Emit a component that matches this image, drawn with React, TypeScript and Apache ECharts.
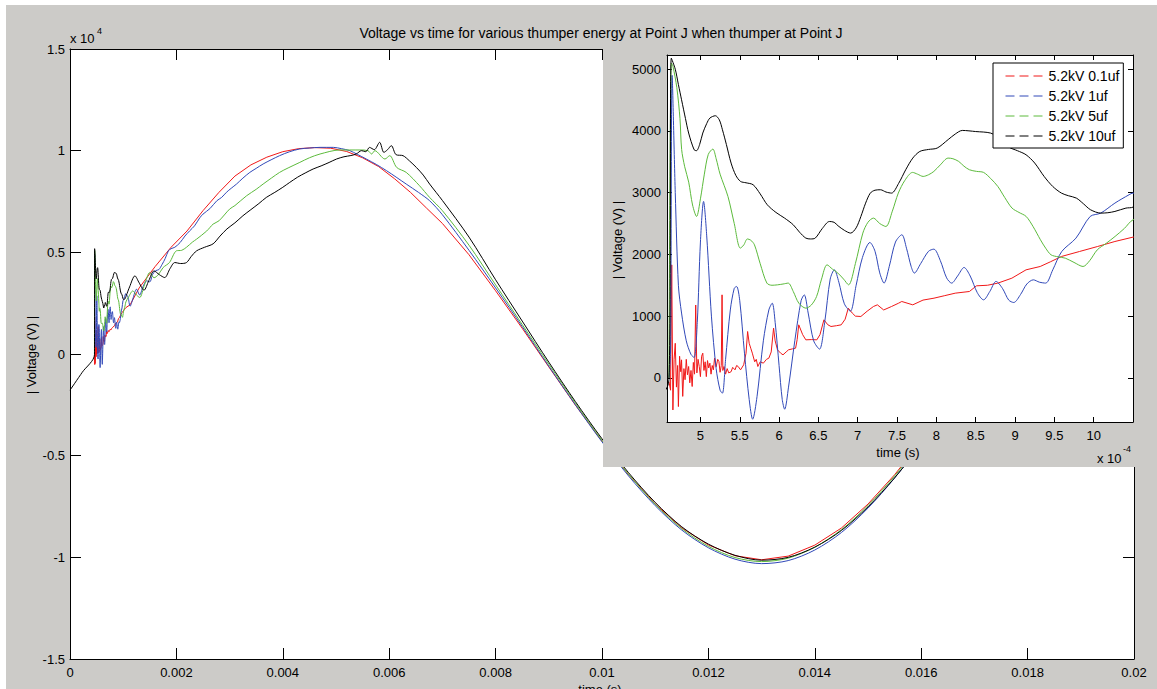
import React, { useEffect, useRef } from "react";
import * as echarts from "echarts";

const FONT = '"Liberation Sans", Arial, Helvetica, sans-serif';
const FIG_BG = "#cccbc8";

const seriesNames = ["5.2kV 0.1uf", "5.2kV 1uf", "5.2kV 5uf", "5.2kV 10uf"];
const seriesColors = ["#f01818", "#3048b8", "#5cba3c", "#000000"];
const seriesSmooth = [0, 0.3, 0.3, 0.3];

// tick labels
const mainXTicks = [0, 0.002, 0.004, 0.006, 0.008, 0.01, 0.012, 0.014, 0.016, 0.018, 0.02];
const mainYTickLabels = ["-1.5", "-1", "-0.5", "0", "0.5", "1", "1.5"]; // x 10^4
const insetXTicks = [5, 5.5, 6, 6.5, 7, 7.5, 8, 8.5, 9, 9.5, 10]; // x 10^-4 s
const insetYTicks = [0, 1000, 2000, 3000, 4000, 5000];

// [time (s), |Voltage| (V)]
const red01uf: [number, number][] = [
  [4.6e-4, -60], [4.62e-4, -200], [4.635e-4, 1830], [4.65e-4, -520], [4.665e-4, 300], [4.68e-4, 560],
  [4.695e-4, -150], [4.71e-4, 200], [4.72e-4, -465], [4.735e-4, 350], [4.75e-4, 100], [4.76e-4, 292],
  [4.775e-4, -300], [4.79e-4, 150], [4.805e-4, -30], [4.82e-4, 300], [4.835e-4, 50], [4.85e-4, 184],
  [4.865e-4, -80], [4.88e-4, 120], [4.895e-4, -140], [4.91e-4, 250], [4.925e-4, 60], [4.94e-4, 1180],
  [4.955e-4, 80], [4.97e-4, 300], [4.985e-4, 184], [5.0e-4, 20], [5.015e-4, 350], [5.03e-4, 400],
  [5.045e-4, 120], [5.06e-4, 260], [5.075e-4, 20], [5.09e-4, 280], [5.105e-4, 160], [5.12e-4, 238],
  [5.135e-4, 60], [5.15e-4, 200], [5.165e-4, 130], [5.18e-4, 320], [5.2e-4, 180], [5.22e-4, 300],
  [5.235e-4, 265], [5.25e-4, 90], [5.265e-4, 200], [5.275e-4, 1345], [5.285e-4, 120], [5.3e-4, 184],
  [5.32e-4, 60], [5.34e-4, 150], [5.36e-4, 80], [5.39e-4, 100], [5.41e-4, 170], [5.44e-4, 130],
  [5.46e-4, 200], [5.48e-4, 184], [5.51e-4, 130], [5.55e-4, 211], [5.58e-4, 400], [5.6e-4, 751],
  [5.62e-4, 560], [5.64e-4, 480], [5.66e-4, 400], [5.69e-4, 260], [5.71e-4, 300], [5.73e-4, 184],
  [5.76e-4, 260], [5.8e-4, 238], [5.84e-4, 300], [5.87e-4, 319], [5.9e-4, 420], [5.93e-4, 805],
  [5.95e-4, 600], [5.98e-4, 454], [6.02e-4, 400], [6.05e-4, 373], [6.09e-4, 420], [6.12e-4, 454],
  [6.17e-4, 470], [6.21e-4, 481], [6.23e-4, 620], [6.25e-4, 859], [6.3e-4, 700], [6.34e-4, 616],
  [6.41e-4, 620], [6.48e-4, 616], [6.52e-4, 700], [6.57e-4, 940], [6.62e-4, 860], [6.66e-4, 832],
  [6.73e-4, 845], [6.79e-4, 859], [6.84e-4, 950], [6.88e-4, 1129], [6.93e-4, 1050], [6.97e-4, 1000],
  [7.04e-4, 994], [7.12e-4, 1080], [7.2e-4, 1156], [7.25e-4, 1183], [7.33e-4, 1100], [7.43e-4, 1156],
  [7.52e-4, 1210], [7.56e-4, 1237], [7.7e-4, 1183], [7.83e-4, 1260], [7.97e-4, 1291], [8.1e-4, 1330],
  [8.24e-4, 1372], [8.42e-4, 1399], [8.51e-4, 1491], [8.65e-4, 1500], [8.78e-4, 1534], [8.96e-4, 1615],
  [9.14e-4, 1750], [9.32e-4, 1804], [9.45e-4, 1880], [9.59e-4, 1966], [9.82e-4, 2047], [10.05e-4, 2128],
  [10.27e-4, 2209], [10.5e-4, 2280],
  [0.00113, 2420], [0.0013, 3250], [0.0016, 4300], [0.0019, 5250], [0.0022, 6050], [0.0025, 7050],
  [0.0028, 7950], [0.0031, 8750], [0.0034, 9300], [0.0037, 9680], [0.004, 9950], [0.0043, 10100],
  [0.0046, 10150], [0.0049, 10120], [0.0052, 9960], [0.0055, 9650], [0.0058, 9220], [0.0061, 8620],
  [0.0064, 7950], [0.0067, 7180], [0.007, 6420], [0.0075, 4881], [0.008, 3109], [0.0085, 1265],
  [0.009, -634], [0.0095, -2512], [0.01, -4293], [0.0105, -5937], [0.011, -7375], [0.0115, -8552],
  [0.012, -9391], [0.0125, -9921], [0.013, -10120], [0.0135, -9940], [0.014, -9400], [0.0145, -8560],
  [0.015, -7380], [0.0155, -5940], [0.016, -4290], [0.0165, -2510], [0.017, -630], [0.0175, 1270],
  [0.018, 3110], [0.0185, 4880], [0.019, 6440], [0.0195, 7810], [0.02, 8850],
];

const blue1uf: [number, number][] = [
  [4.6e-4, 0], [4.62e-4, 400], [4.64e-4, 4900], [4.68e-4, 3000], [4.72e-4, 1500], [4.76e-4, 1050],
  [4.82e-4, 600], [4.88e-4, 380], [4.92e-4, 330], [4.96e-4, 900], [5.0e-4, 2200], [5.04e-4, 2858],
  [5.08e-4, 2300], [5.14e-4, 1000], [5.2e-4, 150], [5.25e-4, -200], [5.28e-4, -248], [5.32e-4, 300],
  [5.38e-4, 1100], [5.43e-4, 1450], [5.46e-4, 1480], [5.5e-4, 1250], [5.56e-4, 400], [5.62e-4, -350],
  [5.664e-4, -670], [5.72e-4, -300], [5.8e-4, 600], [5.87e-4, 1100], [5.913e-4, 1210], [5.95e-4, 900],
  [6.0e-4, 200], [6.04e-4, -350], [6.071e-4, -508], [6.12e-4, -150], [6.2e-4, 600], [6.28e-4, 1250],
  [6.32e-4, 1345], [6.37e-4, 1050], [6.44e-4, 600], [6.514e-4, 465], [6.58e-4, 900], [6.65e-4, 1600],
  [6.703e-4, 1750], [6.76e-4, 1550], [6.83e-4, 1200], [6.906e-4, 1080], [6.98e-4, 1500], [7.06e-4, 1950],
  [7.155e-4, 2193], [7.22e-4, 2050], [7.28e-4, 1700], [7.335e-4, 1535], [7.4e-4, 1800], [7.48e-4, 2200],
  [7.561e-4, 2318], [7.62e-4, 2100], [7.68e-4, 1800], [7.72e-4, 1697], [7.8e-4, 1850], [7.9e-4, 2050],
  [7.968e-4, 2085], [8.05e-4, 1900], [8.13e-4, 1620], [8.194e-4, 1535], [8.27e-4, 1650], [8.352e-4, 1788],
  [8.43e-4, 1650], [8.52e-4, 1380], [8.6e-4, 1264], [8.68e-4, 1400], [8.758e-4, 1562], [8.84e-4, 1450],
  [8.92e-4, 1260], [8.984e-4, 1221], [9.07e-4, 1350], [9.15e-4, 1520], [9.233e-4, 1588], [9.31e-4, 1550],
  [9.39e-4, 1535], [9.48e-4, 1750], [9.594e-4, 2047], [9.775e-4, 2264], [9.955e-4, 2614], [10.09e-4, 2669],
  [10.27e-4, 2831], [10.45e-4, 2966], [10.5e-4, 2993],
  [0.00109, 2800], [0.00113, 2350], [0.00118, 2700], [0.00125, 3187], [0.00131, 2900], [0.00137, 3300],
  [0.00144, 3596], [0.0015, 3550], [0.00155, 3900], [0.00161, 4100], [0.00167, 4150], [0.00173, 4400],
  [0.00179, 4700], [0.00185, 5074], [0.0019, 5180], [0.00197, 5250], [0.00207, 5482], [0.00216, 5800],
  [0.00225, 6059], [0.00234, 6300], [0.00244, 6700], [0.0025, 6880], [0.00263, 7150], [0.00276, 7537],
  [0.00285, 7700], [0.00294, 7950], [0.00303, 8150], [0.00313, 8358], [0.00325, 8650], [0.00338, 8931],
  [0.0035, 9130], [0.00363, 9345], [0.00378, 9550], [0.00394, 9754], [0.00413, 9950], [0.00432, 10084],
  [0.0045, 10130], [0.0047, 10162], [0.00495, 10162], [0.0051, 10100], [0.00526, 10000], [0.0054, 9820],
  [0.00557, 9589], [0.00576, 9320], [0.00595, 9015], [0.00613, 8700], [0.00632, 8358], [0.00655, 7950],
  [0.00676, 7537], [0.007, 6850], [0.0075, 5100], [0.008, 3250], [0.0085, 1350], [0.009, -600],
  [0.0095, -2500], [0.01, -4320], [0.0105, -6000], [0.011, -7460], [0.0115, -8660], [0.012, -9530],
  [0.0125, -10090], [0.013, -10310], [0.0135, -10160], [0.014, -9640], [0.0145, -8780], [0.015, -7580],
  [0.0155, -6100], [0.016, -4420], [0.0165, -2600], [0.017, -700], [0.0175, 1220], [0.018, 3080],
  [0.0185, 4860], [0.019, 6430], [0.0195, 7800], [0.02, 8840],
];

const green5uf: [number, number][] = [
  [4.6e-4, 0], [4.63e-4, 5100], [4.65e-4, 5050], [4.7e-4, 4700], [4.74e-4, 4200], [4.761e-4, 3700],
  [4.8e-4, 3420], [4.851e-4, 3170], [4.9e-4, 2800], [4.951e-4, 2614], [5.0e-4, 2900], [5.05e-4, 3300],
  [5.1e-4, 3620], [5.158e-4, 3706], [5.2e-4, 3550], [5.25e-4, 3300], [5.35e-4, 2938], [5.43e-4, 2500],
  [5.507e-4, 2102], [5.55e-4, 2150], [5.597e-4, 2250], [5.64e-4, 2230], [5.687e-4, 2155], [5.76e-4, 1850],
  [5.845e-4, 1535], [5.91e-4, 1500], [5.98e-4, 1507], [6.05e-4, 1520], [6.116e-4, 1535], [6.18e-4, 1400],
  [6.251e-4, 1210], [6.341e-4, 1129], [6.41e-4, 1180], [6.477e-4, 1318], [6.54e-4, 1600], [6.61e-4, 1831],
  [6.68e-4, 1760], [6.748e-4, 1697], [6.82e-4, 1600], [6.884e-4, 1507], [6.97e-4, 1850], [7.065e-4, 2345],
  [7.13e-4, 2520], [7.2e-4, 2588], [7.28e-4, 2500], [7.358e-4, 2452], [7.44e-4, 2700], [7.516e-4, 2993],
  [7.6e-4, 3200], [7.697e-4, 3328], [7.76e-4, 3300], [7.832e-4, 3263], [7.9e-4, 3290], [7.968e-4, 3344],
  [8.05e-4, 3450], [8.149e-4, 3560], [8.21e-4, 3550], [8.284e-4, 3506], [8.35e-4, 3430], [8.42e-4, 3371],
  [8.51e-4, 3345], [8.6e-4, 3328], [8.69e-4, 3230], [8.781e-4, 3101], [8.87e-4, 2920], [8.962e-4, 2750],
  [9.05e-4, 2680], [9.142e-4, 2614], [9.23e-4, 2450], [9.323e-4, 2237], [9.39e-4, 2100], [9.458e-4, 1993],
  [9.55e-4, 1960], [9.639e-4, 1939], [9.75e-4, 1870], [9.865e-4, 1804], [9.95e-4, 1900], [10.046e-4, 2074],
  [10.16e-4, 2180], [10.272e-4, 2291], [10.39e-4, 2420], [10.5e-4, 2560],
  [0.0011, 2800], [0.00118, 3100], [0.00125, 2900], [0.00131, 2780], [0.0014, 3400], [0.0015, 4005],
  [0.00158, 3750], [0.00166, 3900], [0.00175, 4250], [0.00187, 4500], [0.002, 5074], [0.0021, 5100],
  [0.00219, 5250], [0.0023, 5500], [0.00238, 5650], [0.00257, 6050], [0.00269, 6388], [0.0028, 6550],
  [0.003, 7127], [0.0031, 7300], [0.00332, 7783], [0.0035, 8100], [0.00363, 8358], [0.00394, 8931],
  [0.0041, 9150], [0.00432, 9424], [0.0045, 9650], [0.0047, 9836], [0.00507, 10034], [0.00545, 10034],
  [0.0056, 10000], [0.00567, 9836], [0.00573, 10000], [0.00592, 9590], [0.00601, 9754], [0.00614, 9177],
  [0.00632, 8931], [0.00657, 8276], [0.00676, 7700], [0.007, 7050], [0.0075, 5350], [0.008, 3400],
  [0.0085, 1450], [0.009, -500], [0.0095, -2420], [0.01, -4250], [0.0105, -5920], [0.011, -7390],
  [0.0115, -8590], [0.012, -9460], [0.0125, -10010], [0.013, -10210], [0.0135, -10040], [0.014, -9500],
  [0.0145, -8640], [0.015, -7450], [0.0155, -6000], [0.016, -4350], [0.0165, -2560], [0.017, -680],
  [0.0175, 1230], [0.018, 3090], [0.0185, 4870], [0.019, 6430], [0.0195, 7800], [0.02, 8840],
];

const black10uf: [number, number][] = [
  [0, -1780], [2.3e-4, -900], [4.6e-4, -30], [4.63e-4, 5180], [4.68e-4, 5000], [4.72e-4, 4750],
  [4.76e-4, 4505], [4.81e-4, 4200], [4.85e-4, 3966], [4.92e-4, 3695], [4.95e-4, 3680], [4.99e-4, 3780],
  [5.03e-4, 3966], [5.08e-4, 4120], [5.12e-4, 4208], [5.19e-4, 4246], [5.24e-4, 4180], [5.28e-4, 4019],
  [5.33e-4, 3780], [5.39e-4, 3479], [5.45e-4, 3280], [5.51e-4, 3182], [5.58e-4, 3160], [5.67e-4, 3128],
  [5.76e-4, 2980], [5.85e-4, 2804], [5.96e-4, 2680], [6.07e-4, 2588], [6.18e-4, 2480], [6.26e-4, 2360],
  [6.34e-4, 2264], [6.4e-4, 2250], [6.46e-4, 2264], [6.55e-4, 2420], [6.64e-4, 2533], [6.7e-4, 2520],
  [6.75e-4, 2463], [6.83e-4, 2390], [6.91e-4, 2345], [6.98e-4, 2430], [7.04e-4, 2614], [7.1e-4, 2830],
  [7.16e-4, 2993], [7.22e-4, 3040], [7.29e-4, 3047], [7.36e-4, 3010], [7.43e-4, 2993], [7.52e-4, 3150],
  [7.61e-4, 3371], [7.7e-4, 3560], [7.79e-4, 3668], [7.9e-4, 3700], [8.01e-4, 3722], [8.15e-4, 3860],
  [8.24e-4, 3950], [8.33e-4, 4008], [8.5e-4, 3990], [8.69e-4, 3965], [8.8e-4, 3880], [8.92e-4, 3739],
  [9.03e-4, 3680], [9.14e-4, 3614], [9.25e-4, 3480], [9.37e-4, 3263], [9.48e-4, 3100], [9.59e-4, 2993],
  [9.68e-4, 2950], [9.78e-4, 2912], [9.87e-4, 2820], [9.96e-4, 2723], [10.09e-4, 2669], [10.18e-4, 2675],
  [10.27e-4, 2696], [10.41e-4, 2750], [10.5e-4, 2766],
  [0.00112, 3300], [0.00122, 3842], [0.0013, 3500], [0.00139, 3136], [0.00148, 3600], [0.00158, 4088],
  [0.00168, 3900], [0.00178, 3760], [0.00188, 4200], [0.00197, 4498], [0.00208, 4450], [0.00219, 4498],
  [0.00228, 4800], [0.00238, 5074], [0.00253, 5250], [0.00269, 5419], [0.00282, 5800], [0.00295, 6150],
  [0.0031, 6450], [0.00325, 6798], [0.0034, 7100], [0.00355, 7400], [0.00369, 7700], [0.00385, 7950],
  [0.004, 8200], [0.00413, 8438], [0.00428, 8700], [0.00442, 8900], [0.00457, 9098], [0.00472, 9250],
  [0.00487, 9420], [0.00501, 9589], [0.00515, 9700], [0.00528, 9760], [0.00538, 9836], [0.00548, 10000],
  [0.00556, 9950], [0.00563, 10160], [0.00572, 10050], [0.00582, 10410], [0.0059, 9916], [0.00597, 10050],
  [0.00604, 10246], [0.00613, 9800], [0.00626, 9754], [0.00638, 9500], [0.00651, 9177], [0.00664, 8800],
  [0.00676, 8358], [0.007, 7550], [0.0075, 5750], [0.008, 3650], [0.0085, 1620], [0.009, -400],
  [0.0095, -2340], [0.01, -4170], [0.0105, -5840], [0.011, -7300], [0.0115, -8500], [0.012, -9350],
  [0.0125, -9900], [0.013, -10140], [0.0135, -10000], [0.014, -9500], [0.0145, -8680], [0.015, -7520],
  [0.0155, -6090], [0.016, -4450], [0.0165, -2650], [0.017, -750], [0.0175, 1180], [0.018, 3050],
  [0.0185, 4830], [0.019, 6400], [0.0195, 7780], [0.02, 8830],
];

const allSeries = [red01uf, blue1uf, green5uf, black10uf];

const TEXT = { fontFamily: FONT, fontSize: 13, fill: "#000" };

function buildSeries() {
  return allSeries.map((data, i) => ({
    type: "line",
    name: seriesNames[i],
    data,
    symbol: "none",
    showSymbol: false,
    smooth: seriesSmooth[i],
    clip: true,
    lineStyle: { color: seriesColors[i], width: 1 },
    itemStyle: { color: seriesColors[i] },
    emphasis: { disabled: true },
    silent: true,
  }));
}

const blackLine = { show: true, lineStyle: { color: "#000", width: 1 } };

function mainOption(): any {
  const xAxisBase = {
    type: "value",
    min: mainXTicks[0],
    max: mainXTicks[mainXTicks.length - 1],
    interval: 0.002,
    axisLine: { ...blackLine, onZero: false },
    splitLine: { show: false },
  };
  const yAxisBase = {
    type: "value",
    min: -15000,
    max: 15000,
    interval: 5000,
    axisLine: { ...blackLine, onZero: false },
    splitLine: { show: false },
  };
  return {
    animation: false,
    backgroundColor: "transparent",
    grid: { left: 70, top: 49, width: 1064, height: 610, show: true, backgroundColor: "#fff", borderWidth: 0 },
    xAxis: [
      {
        ...xAxisBase,
        position: "bottom",
        axisTick: { show: true, inside: true, length: 11, lineStyle: { color: "#000" } },
        axisLabel: {
          show: true,
          margin: 7,
          color: "#000",
          fontFamily: FONT,
          fontSize: 13,
          formatter: (v: number) => String(+v.toFixed(4)),
        },
      },
      {
        ...xAxisBase,
        position: "top",
        axisTick: { show: true, inside: true, length: 11, lineStyle: { color: "#000" } },
        axisLabel: { show: false },
      },
    ],
    yAxis: [
      {
        ...yAxisBase,
        position: "left",
        axisTick: { show: true, inside: true, length: 11, lineStyle: { color: "#000" } },
        axisLabel: {
          show: true,
          margin: 5,
          color: "#000",
          fontFamily: FONT,
          fontSize: 13,
          formatter: (v: number) => mainYTickLabels[Math.round((v + 15000) / 5000)],
        },
      },
      {
        ...yAxisBase,
        position: "right",
        axisTick: { show: true, inside: true, length: 11, lineStyle: { color: "#000" } },
        axisLabel: { show: false },
      },
    ],
    series: buildSeries(),
    graphic: [
      {
        type: "text",
        x: 601,
        y: 33,
        style: {
          ...TEXT,
          fontSize: 14,
          text: "Voltage vs time for various thumper energy at Point J when thumper at Point J",
          align: "center",
          verticalAlign: "middle",
        },
      },
      { type: "text", x: 70, y: 38, style: { ...TEXT, text: "x 10", align: "left", verticalAlign: "middle" } },
      {
        type: "text",
        x: 97,
        y: 31,
        style: { ...TEXT, fontSize: 9, text: "4", align: "left", verticalAlign: "middle" },
      },
      {
        type: "text",
        x: 31,
        y: 355,
        rotation: Math.PI / 2,
        style: { ...TEXT, text: "| Voltage (V) |", align: "center", verticalAlign: "middle" },
      },
      { type: "text", x: 600, y: 683, style: { ...TEXT, text: "time (s)", align: "center", verticalAlign: "top" } },
    ],
  };
}

function insetOption(): any {
  const xTickVals = insetXTicks.map((v) => v * 1e-4);
  const xBase = {
    type: "value",
    min: 4.575e-4,
    max: 10.5e-4,
    axisLine: { ...blackLine, onZero: false },
    splitLine: { show: false },
  };
  const yBase = {
    type: "value",
    min: -715,
    max: 5230,
    axisLine: { ...blackLine, onZero: false },
    splitLine: { show: false },
  };
  return {
    animation: false,
    backgroundColor: FIG_BG,
    grid: { left: 64, top: 13, width: 466, height: 367, show: true, backgroundColor: "#fff", borderWidth: 0 },
    legend: {
      data: seriesNames,
      orient: "vertical",
      left: 390,
      top: 21,
      backgroundColor: "#fff",
      borderColor: "#000",
      borderWidth: 1,
      borderRadius: 0,
      padding: [6, 4, 5, 12],
      itemGap: 6,
      itemWidth: 38,
      itemHeight: 14,
      selectedMode: false,
      textStyle: { fontFamily: FONT, fontSize: 14, color: "#000" },
      itemStyle: { color: "rgba(0,0,0,0)", borderWidth: 0, opacity: 0 },
      lineStyle: { type: [9, 5], width: 1 },
    },
    xAxis: [
      {
        ...xBase,
        position: "bottom",
        axisTick: { show: true, inside: true, length: 5, customValues: xTickVals, lineStyle: { color: "#000" } },
        axisLabel: {
          show: true,
          customValues: xTickVals,
          margin: 7,
          color: "#000",
          fontFamily: FONT,
          fontSize: 13,
          formatter: (v: number) => String(Math.round(v * 1e5) / 10),
        },
      },
      {
        ...xBase,
        position: "top",
        axisTick: { show: true, inside: true, length: 5, customValues: xTickVals, lineStyle: { color: "#000" } },
        axisLabel: { show: false },
      },
    ],
    yAxis: [
      {
        ...yBase,
        position: "left",
        axisTick: { show: true, inside: true, length: 5, customValues: insetYTicks, lineStyle: { color: "#000" } },
        axisLabel: {
          show: true,
          customValues: insetYTicks,
          margin: 6,
          color: "#000",
          fontFamily: FONT,
          fontSize: 13,
          formatter: (v: number) => String(v),
        },
      },
      {
        ...yBase,
        position: "right",
        axisTick: { show: true, inside: true, length: 5, customValues: insetYTicks, lineStyle: { color: "#000" } },
        axisLabel: { show: false },
      },
    ],
    series: buildSeries(),
    graphic: [
      {
        type: "text",
        x: 14,
        y: 198,
        rotation: Math.PI / 2,
        style: { ...TEXT, text: "| Voltage (V) |", align: "center", verticalAlign: "middle" },
      },
      { type: "text", x: 295, y: 410, style: { ...TEXT, text: "time (s)", align: "center", verticalAlign: "middle" } },
      { type: "text", x: 494, y: 416, style: { ...TEXT, text: "x 10", align: "left", verticalAlign: "middle" } },
      {
        type: "text",
        x: 520,
        y: 407,
        style: { ...TEXT, fontSize: 9, text: "-4", align: "left", verticalAlign: "middle" },
      },
    ],
  };
}

export default function App() {
  const mainRef = useRef<HTMLDivElement>(null);
  const insetRef = useRef<HTMLDivElement>(null);

  useEffect(() => {
    const main = echarts.init(mainRef.current!, null, { renderer: "svg" });
    main.setOption(mainOption());
    const inset = echarts.init(insetRef.current!, null, { renderer: "svg" });
    inset.setOption(insetOption());
    return () => {
      main.dispose();
      inset.dispose();
    };
  }, []);

  return (
    <div style={{ position: "fixed", left: 0, top: 0, width: 1157, height: 689, background: "#fff", overflow: "hidden" }}>
      <div style={{ position: "absolute", left: 6, top: 5, width: 1151, height: 684, background: FIG_BG }} />
      <div ref={mainRef} style={{ position: "absolute", left: 0, top: 0, width: 1157, height: 689 }} />
      <div ref={insetRef} style={{ position: "absolute", left: 603, top: 42, width: 554, height: 425 }} />
    </div>
  );
}
